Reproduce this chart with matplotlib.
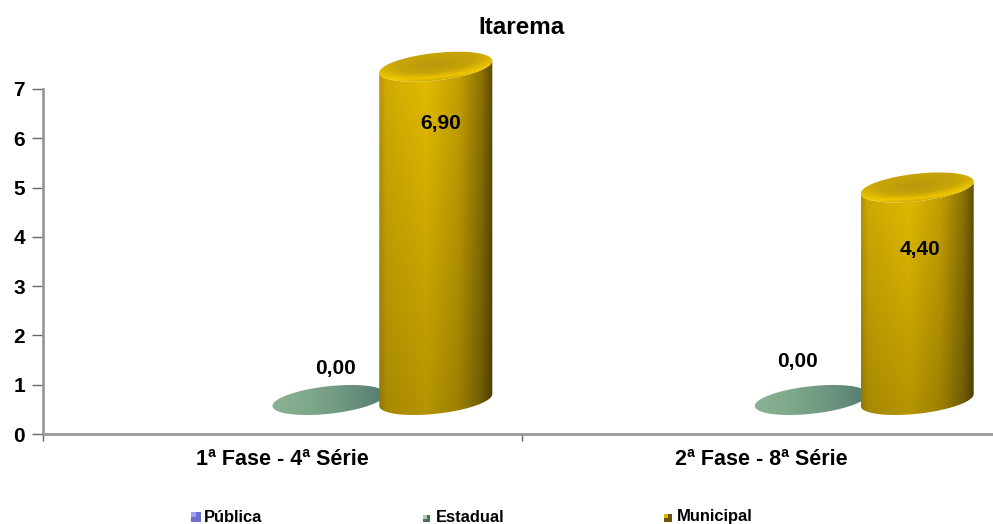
import numpy as np
import matplotlib
matplotlib.use("Agg")
import matplotlib.pyplot as plt
from matplotlib.colors import LinearSegmentedColormap
from matplotlib.patches import PathPatch, Rectangle
from matplotlib.path import Path

plt.rcParams["font.family"] = ["Liberation Sans", "DejaVu Sans"]
plt.rcParams["font.weight"] = "bold"

title = "Itarema"
categories = ["1ª Fase - 4ª Série", "2ª Fase - 8ª Série"]
series_names = ["Pública", "Estadual", "Municipal"]
estadual = [0.00, 0.00]
municipal = [6.90, 4.40]
y_ticks = [0, 1, 2, 3, 4, 5, 6, 7]

W, H = 993, 524
AX_L, AX_R, AX_T, AX_B = 43, 993, 89, 434

green_cmap = LinearSegmentedColormap.from_list("g", ["#8ab193", "#7fa78a", "#6d9480", "#557a6e"])
gold_body = LinearSegmentedColormap.from_list(
    "b", [(0, "#b89604"), (0.06, "#d4ae04"), (0.42, "#e6bd00"), (0.70, "#c6a203"), (0.90, "#8f7404"), (1, "#5c4b03")]
)
gold_top = LinearSegmentedColormap.from_list(
    "t", [(0, "#b8980c"), (0.5, "#c6a408"), (0.78, "#e2bb02"), (0.92, "#efc800"), (1, "#d6b004")]
)

fig = plt.figure(figsize=(W / 100, H / 100), dpi=100)
ax = fig.add_axes([AX_L / W, 1 - AX_B / H, (AX_R - AX_L) / W, (AX_B - AX_T) / H])

# fake 3D: the floor sits above the axis line
floor = 0.69
rise = 0.98
half_w = 0.118
half_h = 0.28
tilt = 0.12


def ellipse_pts(xc, yc):
    t = np.linspace(0, 2 * np.pi, 120)
    return xc + half_w * np.cos(t), yc + half_h * np.sin(t) + tilt * np.cos(t)


def show_clipped(img, path, extent, cmap=None, zorder=3):
    im = ax.imshow(img, cmap=cmap, extent=extent, aspect="auto", origin="lower", vmin=0, vmax=1, zorder=zorder)
    patch = PathPatch(path, transform=ax.transData, fc="none", ec="none")
    ax.add_patch(patch)
    im.set_clip_path(patch)
    # the tall bar pokes out above the axes box
    im.set_clip_box(fig.bbox)


def cylinder(xc, value):
    y_top = floor + rise * value
    t = np.linspace(np.pi, 2 * np.pi, 80)
    low_x = xc + half_w * np.cos(t)
    low_y = floor + half_h * np.sin(t) + tilt * np.cos(t)
    up_x = low_x[::-1]
    up_y = y_top + (half_h * np.sin(t) + tilt * np.cos(t))[::-1]
    body = Path(np.column_stack([np.r_[low_x, up_x], np.r_[low_y, up_y]]))

    rgba = gold_body(np.linspace(0, 1, 256))[None, :, :].repeat(220, axis=0)
    # darker toward the floor
    shade = np.linspace(0.78, 1.0, 220)[:, None, None]
    rgba[:, :, :3] = rgba[:, :, :3] * shade
    show_clipped(rgba, body, [xc - half_w, xc + half_w, floor - 0.4, y_top + 0.4])

    # top face with a bevel: bright band near the front rim
    ext = [xc - half_w, xc + half_w, y_top - half_h - tilt, y_top + half_h + tilt]
    gx, gy = np.meshgrid(np.linspace(-1, 1, 200), np.linspace(ext[2], ext[3], 120))
    ny = (gy - y_top - tilt * gx) / half_h
    d = np.sqrt(gx**2 + (ny - 0.12) ** 2)
    front = np.clip(0.5 - ny * 0.5, 0, 1)
    img = np.clip(d, 0, 1) * (0.55 + 0.45 * front)
    xs, ys = ellipse_pts(xc, y_top)
    show_clipped(img, Path(np.column_stack([xs, ys])), ext, cmap=gold_top, zorder=4)


def flat_disc(xc):
    g = np.linspace(0, 1, 256)[None, :]
    xs, ys = ellipse_pts(xc, floor)
    show_clipped(g, Path(np.column_stack([xs, ys])), [xc - half_w, xc + half_w, floor - 0.5, floor + 0.5],
                 cmap=green_cmap, zorder=2)


x_est = [0.097, 1.104]
x_mun = [0.320, 1.325]
est_label_x = [0.110, 1.075]
est_label_y = [1.32, 1.47]
mun_label_x = [0.330, 1.330]
mun_label_y = [6.31, 3.75]

for i in range(2):
    flat_disc(x_est[i])
    cylinder(x_mun[i], municipal[i])
    ax.text(est_label_x[i], est_label_y[i], f"{estadual[i]:.2f}".replace(".", ","), ha="center", va="center",
            fontsize=15, zorder=6, clip_on=False)
    ax.text(mun_label_x[i], mun_label_y[i], f"{municipal[i]:.2f}".replace(".", ","), ha="center", va="center",
            fontsize=15, zorder=6, clip_on=False)

ax.set_xlim(-0.5, -0.5 + (AX_R - AX_L) / 479)
ax.set_ylim(0, 7)
ax.set_yticks(y_ticks)
ax.set_xticks([-0.5, 0.5])
ax.set_xticklabels([])
ax.tick_params(axis="y", length=8, width=1, color="#666666", direction="out", labelsize=15, pad=5)
ax.tick_params(axis="x", length=5, width=1, color="#666666", direction="out")
for lab in ["top", "right"]:
    ax.spines[lab].set_visible(False)
for lab in ["left", "bottom"]:
    ax.spines[lab].set_color("#999999")
    ax.spines[lab].set_linewidth(2)
for i, cat in enumerate(categories):
    ax.text(i, -0.52, cat, ha="center", va="center", fontsize=15.5)

fig.text(521 / W, 1 - 27 / H, title, ha="center", va="center", fontsize=17.5)

# legend, placed by hand like the original
legend_x = [191, 423, 664]
legend_size = [10, 7, 8]
legend_cols = [("#6f6fd0", "#a0a0ee"), ("#4f7058", "#a9cdb0"), ("#6e5803", "#e0b800")]
for name, lx, sz, (dark, light) in zip(series_names, legend_x, legend_size, legend_cols):
    fig.add_artist(Rectangle((lx / W, 1 - 522 / H), sz / W, sz / H, transform=fig.transFigure, fc=dark, ec="none"))
    fig.add_artist(Rectangle((lx / W, (1 - 522 / H) + (sz / 2) / H), (sz / 2) / W, (sz / 2) / H,
                             transform=fig.transFigure, fc=light, ec="none"))
    fig.text((lx + 13) / W, 1 - 521.5 / H, name, ha="left", va="baseline", fontsize=11.9)

fig.savefig("out.png", dpi=100)
